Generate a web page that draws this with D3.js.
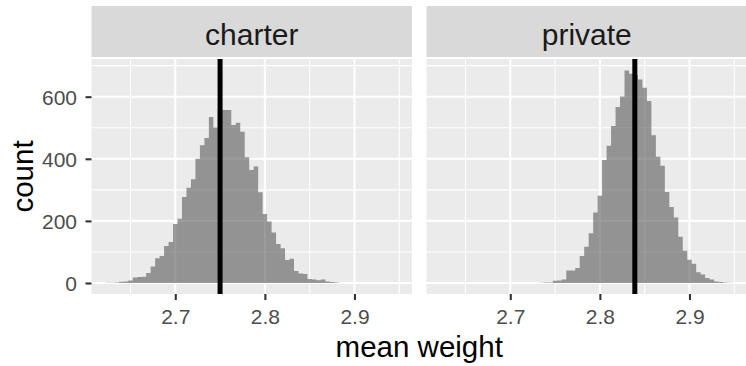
<!DOCTYPE html>
<html>
<head>
<meta charset="utf-8">
<script src="https://cdn.jsdelivr.net/npm/d3@7"></script>
<style>
  html, body { margin: 0; padding: 0; background: #ffffff; }
  svg { display: block; font-family: "Liberation Sans", Arial, sans-serif; }
</style>
</head>
<body>
<svg id="chart" width="746" height="366"></svg>
<script>
// Facet labels
const facets = ["charter", "private"];

// Histogram bin centres (binwidth 0.005)
const binCenters = [
  2.625, 2.630, 2.635, 2.640, 2.645, 2.650, 2.655, 2.660, 2.665, 2.670,
  2.675, 2.680, 2.685, 2.690, 2.695, 2.700, 2.705, 2.710, 2.715, 2.720,
  2.725, 2.730, 2.735, 2.740, 2.745, 2.750, 2.755, 2.760, 2.765, 2.770,
  2.775, 2.780, 2.785, 2.790, 2.795, 2.800, 2.805, 2.810, 2.815, 2.820,
  2.825, 2.830, 2.835, 2.840, 2.845, 2.850, 2.855, 2.860, 2.865, 2.870,
  2.875, 2.880, 2.885, 2.890, 2.895, 2.900, 2.905, 2.910, 2.915, 2.920,
  2.925, 2.930, 2.935, 2.940, 2.945
];
const binWidth = 0.005;

// Bootstrap counts per bin
const charterCounts = [
  1, 1, 2, 4, 5, 8, 18, 19, 20, 32,
  53, 80, 87, 119, 132, 190, 207, 277, 307, 334,
  400, 444, 467, 535, 501, 560, 557, 557, 509, 516,
  487, 405, 364, 375, 292, 222, 198, 163, 126, 112,
  74, 78, 39, 31, 29, 13, 11, 9, 11, 5,
  3, 2, 0, 0, 0, 0, 0, 0, 0, 0,
  0, 0, 0, 0, 0
];
const privateCounts = [
  0, 0, 0, 0, 0, 0, 0, 0, 0, 0,
  0, 0, 0, 0, 0, 0, 0, 0, 0, 0,
  0, 0, 1, 2, 2, 7, 8, 11, 40, 40,
  48, 87, 117, 160, 227, 281, 396, 442, 506, 567,
  601, 684, 674, 670, 655, 629, 586, 476, 407, 378,
  293, 245, 211, 149, 104, 75, 62, 35, 27, 16,
  11, 5, 3, 2, 1
];

// Observed mean of each group (vertical reference line)
const groupMeans = [2.75, 2.839];

// Axis ticks
const xTicks = [2.7, 2.8, 2.9];
const xMinor = [2.65, 2.75, 2.85, 2.95];
const yTicks = [0, 200, 400, 600];
const yMinor = [100, 300, 500, 700];

const seriesByFacet = [charterCounts, privateCounts];

// Layout
const panelTop = 59, panelBottom = 294;
const stripTop = 6, stripBottom = 57;
const panelLefts = [91.5, 426.5];
const panelWidth = 320.5;

const svg = d3.select("#chart");

const y = d3.scaleLinear().domain([-35.4, 721.4]).range([panelBottom, panelTop]);

facets.forEach((name, fi) => {
  const x0 = panelLefts[fi];
  const x = d3.scaleLinear().domain([2.6065, 2.9642]).range([x0, x0 + panelWidth]);
  const g = svg.append("g");

  // strip
  g.append("rect")
    .attr("x", x0).attr("y", stripTop)
    .attr("width", panelWidth).attr("height", stripBottom - stripTop)
    .attr("fill", "#d9d9d9");
  g.append("text")
    .attr("x", x0 + panelWidth / 2).attr("y", 45)
    .attr("text-anchor", "middle")
    .attr("font-size", 30)
    .attr("fill", "#1a1a1a")
    .text(name);

  // panel background
  g.append("rect")
    .attr("x", x0).attr("y", panelTop)
    .attr("width", panelWidth).attr("height", panelBottom - panelTop)
    .attr("fill", "#ebebeb");

  // minor grid
  g.selectAll(".xminor").data(xMinor).join("line")
    .attr("x1", d => x(d)).attr("x2", d => x(d))
    .attr("y1", panelTop).attr("y2", panelBottom)
    .attr("stroke", "#ffffff").attr("stroke-width", 1.05);
  g.selectAll(".yminor").data(yMinor).join("line")
    .attr("x1", x0).attr("x2", x0 + panelWidth)
    .attr("y1", d => y(d)).attr("y2", d => y(d))
    .attr("stroke", "#ffffff").attr("stroke-width", 1.05);
  // major grid
  g.selectAll(".xmajor").data(xTicks).join("line")
    .attr("x1", d => x(d)).attr("x2", d => x(d))
    .attr("y1", panelTop).attr("y2", panelBottom)
    .attr("stroke", "#ffffff").attr("stroke-width", 2.1);
  g.selectAll(".ymajor").data(yTicks).join("line")
    .attr("x1", x0).attr("x2", x0 + panelWidth)
    .attr("y1", d => y(d)).attr("y2", d => y(d))
    .attr("stroke", "#ffffff").attr("stroke-width", 2.1);

  // histogram: one stepped outline per panel so adjacent bars join seamlessly
  const counts = seriesByFacet[fi];
  const steps = [];
  binCenters.forEach((c, i) => {
    steps.push([c - binWidth / 2, counts[i]]);
    steps.push([c + binWidth / 2, counts[i]]);
  });
  const area = d3.area()
    .x(d => x(d[0]))
    .y0(y(0))
    .y1(d => y(d[1]));
  g.append("path")
    .datum(steps)
    .attr("d", area)
    .attr("fill", "#595959")
    .attr("fill-opacity", 0.6);

  // mean line
  g.append("line")
    .attr("x1", x(groupMeans[fi])).attr("x2", x(groupMeans[fi]))
    .attr("y1", panelTop).attr("y2", panelBottom)
    .attr("stroke", "#000000").attr("stroke-width", 5);

  // x axis ticks and labels
  const xAxis = d3.axisBottom(x).tickValues(xTicks).tickSize(6).tickPadding(4)
    .tickFormat(d3.format(".1f"));
  const ax = g.append("g").attr("transform", `translate(0,${panelBottom})`).call(xAxis);
  ax.select(".domain").remove();
  ax.selectAll(".tick line").attr("stroke", "#333333").attr("stroke-width", 2.1);
  ax.selectAll(".tick text")
    .attr("font-size", 21).attr("fill", "#4d4d4d")
    .attr("font-family", "Liberation Sans, Arial, sans-serif")
    .attr("dy", null).attr("y", 29.5);

  // y axis on first panel only
  if (fi === 0) {
    const yAxis = d3.axisLeft(y).tickValues(yTicks).tickSize(6).tickPadding(4);
    const ay = g.append("g").attr("transform", `translate(${x0},0)`).call(yAxis);
    ay.select(".domain").remove();
    ay.selectAll(".tick line").attr("stroke", "#333333").attr("stroke-width", 2.1);
    ay.selectAll(".tick text")
      .attr("font-size", 21).attr("fill", "#4d4d4d")
      .attr("font-family", "Liberation Sans, Arial, sans-serif")
      .attr("x", -14.5).attr("dy", "0.35em");
  }
});

// axis titles
svg.append("text")
  .attr("x", (panelLefts[0] + panelLefts[1] + panelWidth) / 2)
  .attr("y", 357)
  .attr("text-anchor", "middle")
  .attr("font-size", 29.5)
  .attr("fill", "#000000")
  .text("mean weight");

svg.append("text")
  .attr("transform", `translate(33,${(panelTop + panelBottom) / 2}) rotate(-90)`)
  .attr("text-anchor", "middle")
  .attr("font-size", 29.5)
  .attr("fill", "#000000")
  .text("count");
</script>
</body>
</html>
